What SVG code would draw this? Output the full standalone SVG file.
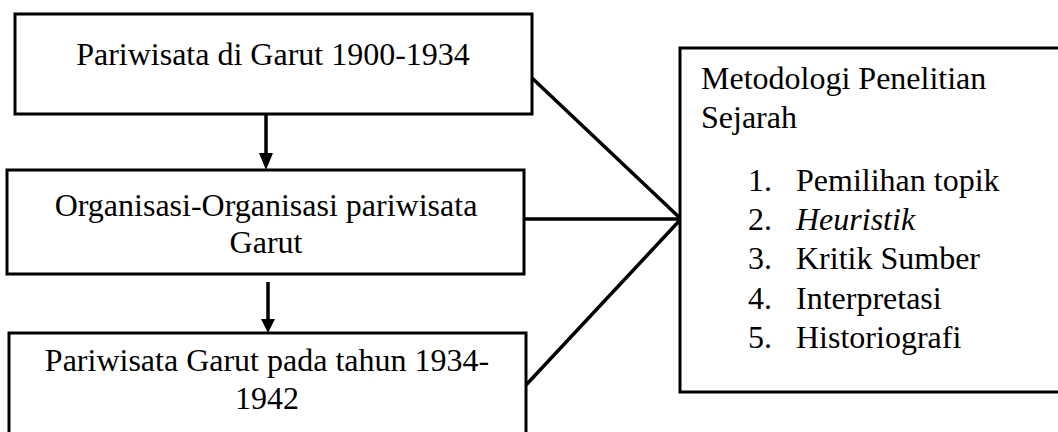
<svg xmlns="http://www.w3.org/2000/svg" width="1058" height="432" viewBox="0 0 1058 432">
<style>
.box{fill:#fff;stroke:#000;stroke-width:3}
.t{font-family:"Liberation Serif","Times New Roman",serif;font-size:32px;fill:#000}
.c{text-anchor:middle}
.ln{stroke:#000;stroke-width:3.5;fill:none}
.ar{stroke:#000;stroke-width:3.5;fill:none}
</style>
<rect width="1058" height="432" fill="#fff"/>
<g id="connectors">
<line class="ln" x1="532" y1="78" x2="681" y2="219"/>
<line class="ln" x1="524" y1="219" x2="681" y2="219"/>
<line class="ln" x1="526" y1="385" x2="681" y2="219"/>
<line class="ar" x1="266" y1="114" x2="266" y2="155"/>
<polygon points="259,153 273,153 266,170" fill="#000"/>
<line class="ar" x1="268" y1="282" x2="268" y2="321"/>
<polygon points="261,319 275,319 268,333" fill="#000"/>
</g>
<g id="node1">
<rect class="box" x="15" y="14" width="517" height="100"/>
<text class="t c" x="273" y="65">Pariwisata di Garut 1900-1934</text>
</g>
<g id="node2">
<rect class="box" x="7" y="170" width="517" height="104"/>
<text class="t c" x="266" y="216">Organisasi-Organisasi pariwisata</text>
<text class="t c" x="266" y="253">Garut</text>
</g>
<g id="node3">
<rect class="box" x="9" y="333" width="517" height="115"/>
<text class="t c" x="267" y="371">Pariwisata Garut pada tahun 1934-</text>
<text class="t c" x="267" y="409">1942</text>
</g>
<g id="node4">
<rect class="box" x="680" y="48" width="400" height="344"/>
<text class="t" x="701" y="89">Metodologi Penelitian</text>
<text class="t" x="701" y="128">Sejarah</text>
<text class="t" x="748" y="191">1.</text><text class="t" x="796" y="191">Pemilihan topik</text>
<text class="t" x="748" y="230">2.</text><text class="t" x="796" y="230" font-style="italic">Heuristik</text>
<text class="t" x="748" y="269">3.</text><text class="t" x="796" y="269">Kritik Sumber</text>
<text class="t" x="748" y="309">4.</text><text class="t" x="796" y="309">Interpretasi</text>
<text class="t" x="748" y="348">5.</text><text class="t" x="796" y="348">Historiografi</text>
</g>
</svg>
